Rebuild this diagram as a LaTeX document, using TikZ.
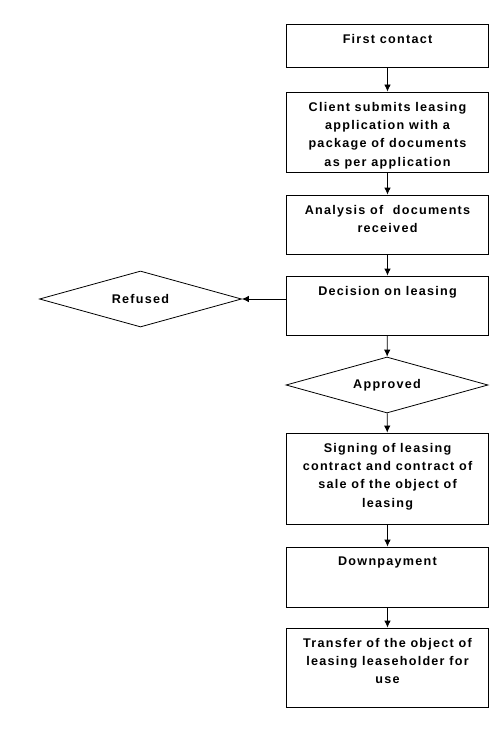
\documentclass[tikz,border=0pt]{standalone}
\usepackage{fontspec}
\setmainfont{Liberation Sans}[LetterSpace=10]
\usetikzlibrary{shapes.geometric,arrows.meta}
\newcommand{\bt}[2]{\parbox[c][#1][t]{200pt}{\centering\vspace{10pt}#2}}
\begin{document}
\begin{tikzpicture}[x=1pt,y=-1pt,
  font=\fontsize{12.6}{18.3}\selectfont\bfseries,
  box/.style={draw,line width=0.8pt,inner sep=0pt,minimum width=202pt},
  dec/.style={draw,line width=0.8pt,diamond,aspect=3.6,inner sep=0pt,minimum width=202pt,minimum height=56pt},
  arr/.style={-{Latex[length=7pt,width=6.5pt]},line width=0.8pt}]
\useasboundingbox (0,0) rectangle (500,730);
\node[box] (b1) at (387.5,45.5) {\bt{43pt}{First contact}};
\node[box] (b2) at (387.5,132) {\bt{80pt}{Client submits leasing\\application with a\\package of documents\\as per application}};
\node[box] (b3) at (387.5,224.5) {\bt{59pt}{Analysis of \ documents\\received}};
\node[box] (b4) at (387.5,305.5) {\bt{59pt}{Decision on leasing}};
\node[dec] (ref) at (140.5,299) {Refused};
\node[dec] (app) at (387,385) {Approved};
\node[box] (b5) at (387.5,478.5) {\bt{91pt}{Signing of leasing\\contract and contract of\\sale of the object of\\leasing}};
\node[box] (b6) at (387.5,577) {\bt{60pt}{Downpayment}};
\node[box] (b7) at (387.5,667.5) {\bt{79pt}{Transfer of the object of\\leasing leaseholder for\\use}};
\draw[arr] (b1) -- (b2);
\draw[arr] (b2) -- (b3);
\draw[arr] (b3) -- (b4);
\draw[arr] (b4.west |- ref.east) -- (ref.east);
\draw[arr] (b4) -- (app);
\draw[arr] (app) -- (b5);
\draw[arr] (b5) -- (b6);
\draw[arr] (b6) -- (b7);
\end{tikzpicture}
\end{document}
